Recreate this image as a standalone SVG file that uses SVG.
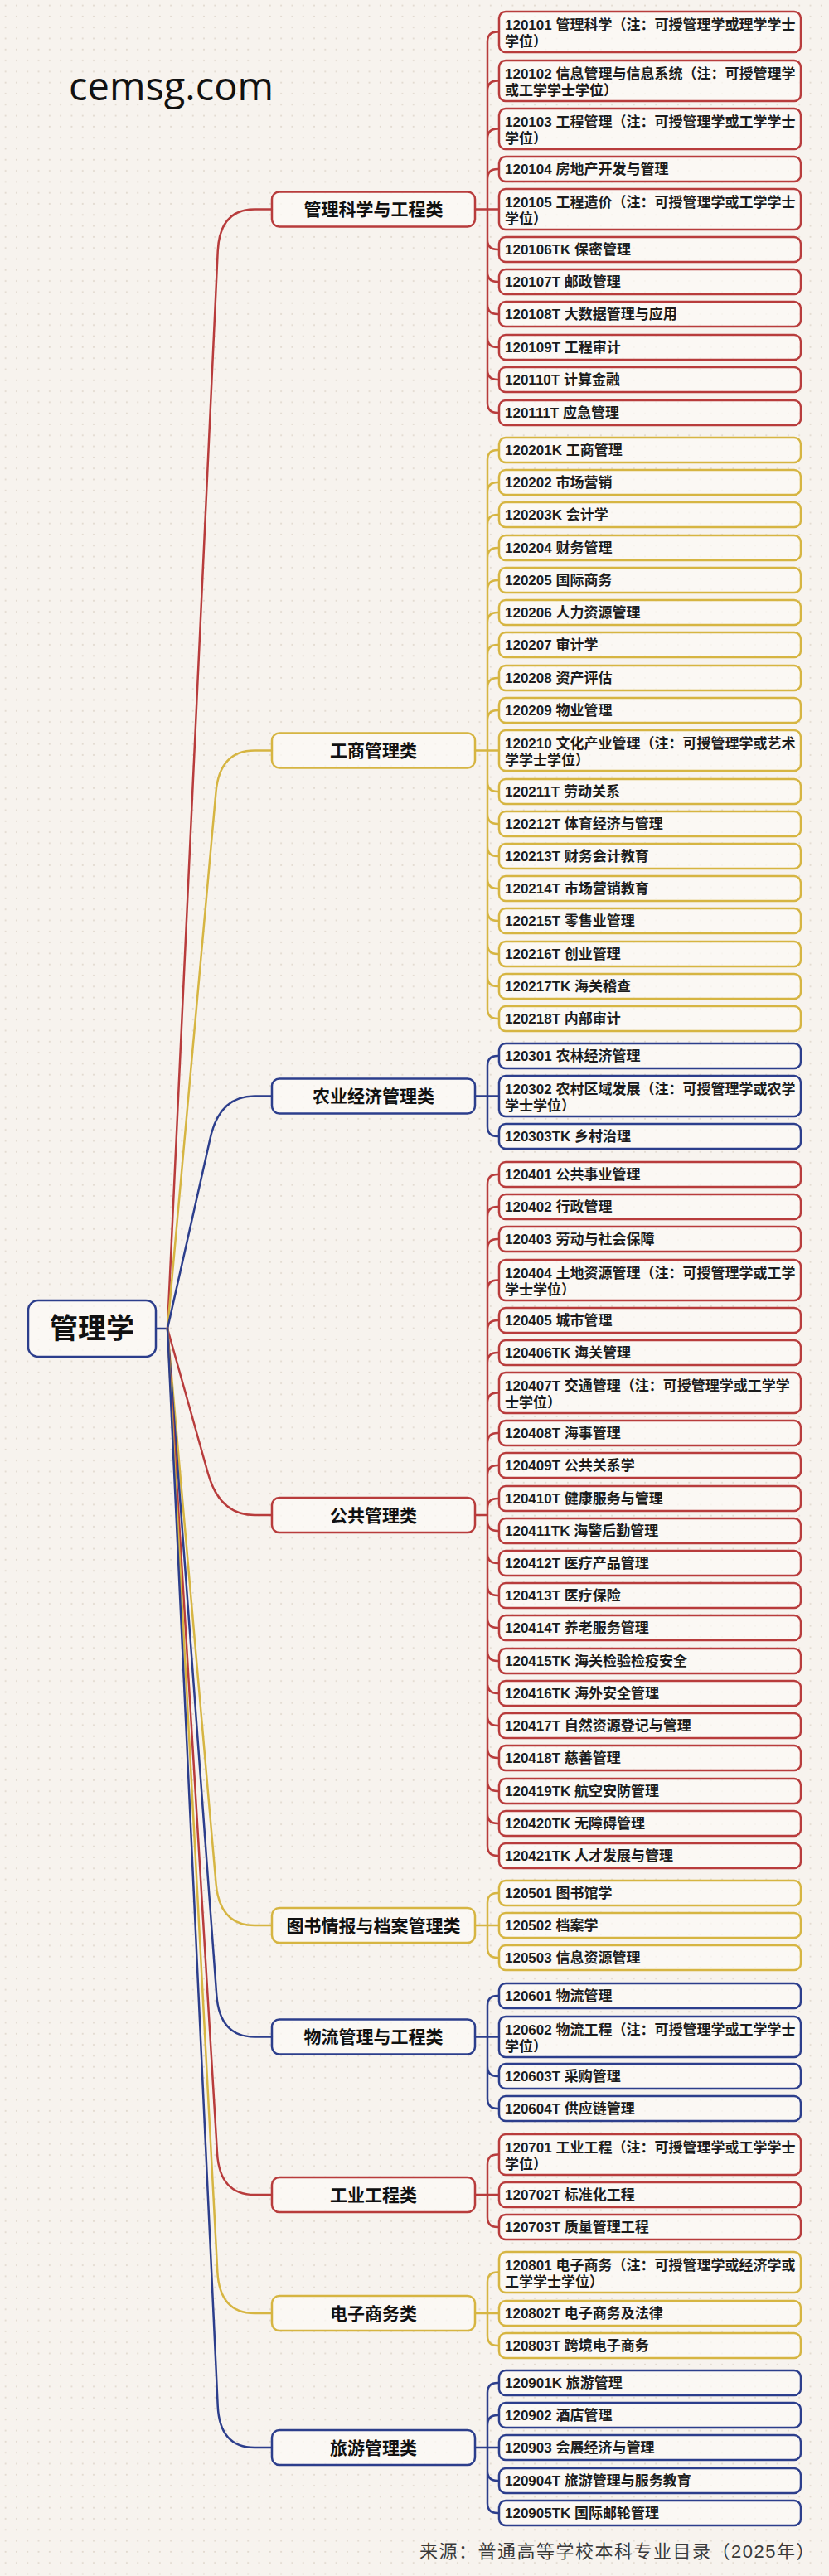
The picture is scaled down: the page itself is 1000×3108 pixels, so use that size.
<svg xmlns="http://www.w3.org/2000/svg" width="1000" height="3108" viewBox="0 0 1000 3108">
<defs>
<pattern id="dots" width="13.3" height="13.3" patternUnits="userSpaceOnUse"><circle cx="6.6" cy="6.6" r="1.1" fill="#e2dad0"/></pattern>
</defs>
<style>
text{font-family:"Liberation Sans","Noto Sans CJK SC",sans-serif}
.lt{font-size:17px;font-weight:700;fill:#1c1c1c}
.ct{font-size:21px;font-weight:700;text-anchor:middle;fill:#111}
.bx{fill:#fcfaf6;fill-opacity:0.75;stroke-width:2.5}
.R{stroke:#b83c3c}.Y{stroke:#d6b542}.B{stroke:#2c3e8c}
.cn{fill:none;stroke-width:2.5;stroke-linecap:round;stroke-linejoin:round}
</style>
<rect width="1000" height="3108" fill="#f7f3ee"/>
<rect width="1000" height="3108" fill="url(#dots)"/>
<text x="83" y="121" style="font-family:'Open Sans','Noto Sans',sans-serif;font-size:47px;fill:#111">cemsg.com</text>

<g id="connectors">
<path class="cn B" d="M188 1603H202"/>
<path class="cn R" d="M202 1603L262.7 303Q265 252.5 307 252.5H328"/>
<path class="cn Y" d="M202 1603L260.5 955.5Q265 905.5 307 905.5H328"/>
<path class="cn B" d="M202 1603L253.8 1372.5Q265 1322.5 307 1322.5H328"/>
<path class="cn R" d="M202 1603L251 1778Q265 1828 307 1828H328"/>
<path class="cn Y" d="M202 1603L260.6 2273Q265 2323 307 2323H328"/>
<path class="cn B" d="M202 1603L261.3 2407.5Q265 2457.5 307 2457.5H328"/>
<path class="cn R" d="M202 1603L262 2598Q265 2648 307 2648H328"/>
<path class="cn Y" d="M202 1603L262.3 2741Q265 2791 307 2791H328"/>
<path class="cn B" d="M202 1603L262.7 2903Q265 2953 307 2953H328"/>

<path class="cn R" d="M573 252.5H602M588 50.5V486M588 50.5Q588 38.5 600 38.5H602M588 109.5Q588 97.5 600 97.5H602M588 167.5Q588 155.5 600 155.5H602M588 216Q588 204 600 204H602M588 289Q588 301 600 301H602M588 328Q588 340 600 340H602M588 367Q588 379 600 379H602M588 407Q588 419 600 419H602M588 446Q588 458 600 458H602M588 486Q588 498 600 498H602"/>
<path class="cn Y" d="M573 905.5H602M588 555V1217M588 555Q588 543 600 543H602M588 594Q588 582 600 582H602M588 633Q588 621 600 621H602M588 673Q588 661 600 661H602M588 712Q588 700 600 700H602M588 751Q588 739 600 739H602M588 790Q588 778 600 778H602M588 830Q588 818 600 818H602M588 869Q588 857 600 857H602M588 943Q588 955 600 955H602M588 982Q588 994 600 994H602M588 1021Q588 1033 600 1033H602M588 1060Q588 1072 600 1072H602M588 1099Q588 1111 600 1111H602M588 1139Q588 1151 600 1151H602M588 1178Q588 1190 600 1190H602M588 1217Q588 1229 600 1229H602"/>
<path class="cn B" d="M573 1322.5H602M588 1286V1359M588 1286Q588 1274 600 1274H602M588 1359Q588 1371 600 1371H602"/>
<path class="cn R" d="M573 1828H588M588 1429V2227M588 1429Q588 1417 600 1417H602M588 1468Q588 1456 600 1456H602M588 1507Q588 1495 600 1495H602M588 1556.5Q588 1544.5 600 1544.5H602M588 1605Q588 1593 600 1593H602M588 1644Q588 1632 600 1632H602M588 1692.5Q588 1680.5 600 1680.5H602M588 1741Q588 1729 600 1729H602M588 1780Q588 1768 600 1768H602M588 1820Q588 1808 600 1808H602M588 1835Q588 1847 600 1847H602M588 1874Q588 1886 600 1886H602M588 1913Q588 1925 600 1925H602M588 1952Q588 1964 600 1964H602M588 1992Q588 2004 600 2004H602M588 2031Q588 2043 600 2043H602M588 2070Q588 2082 600 2082H602M588 2109Q588 2121 600 2121H602M588 2149Q588 2161 600 2161H602M588 2188Q588 2200 600 2200H602M588 2227Q588 2239 600 2239H602"/>
<path class="cn Y" d="M573 2323H602M588 2296V2350M588 2296Q588 2284 600 2284H602M588 2350Q588 2362 600 2362H602"/>
<path class="cn B" d="M573 2457.5H602M588 2420V2532M588 2420Q588 2408 600 2408H602M588 2493Q588 2505 600 2505H602M588 2532Q588 2544 600 2544H602"/>
<path class="cn R" d="M573 2648H602M588 2611.5V2675M588 2611.5Q588 2599.5 600 2599.5H602M588 2675Q588 2687 600 2687H602"/>
<path class="cn Y" d="M573 2791H602M588 2753.5V2818M588 2753.5Q588 2741.5 600 2741.5H602M588 2818Q588 2830 600 2830H602"/>
<path class="cn B" d="M573 2953H602M588 2887V3020M588 2887Q588 2875 600 2875H602M588 2926Q588 2914 600 2914H602M588 2981Q588 2993 600 2993H602M588 3020Q588 3032 600 3032H602"/>
</g>

<g id="root"><rect class="bx B" x="34" y="1569" width="154" height="68" rx="12"/><text x="111" y="1615" style="font-size:34px;font-weight:700;text-anchor:middle;fill:#111">管理学</text></g>

<g id="c01"><rect class="bx R" x="328" y="231.5" width="245" height="42" rx="9"/><text class="ct" x="450.5" y="260">管理科学与工程类</text></g>
<g id="c02"><rect class="bx Y" x="328" y="884.5" width="245" height="42" rx="9"/><text class="ct" x="450.5" y="913">工商管理类</text></g>
<g id="c03"><rect class="bx B" x="328" y="1301.5" width="245" height="42" rx="9"/><text class="ct" x="450.5" y="1330">农业经济管理类</text></g>
<g id="c04"><rect class="bx R" x="328" y="1807" width="245" height="42" rx="9"/><text class="ct" x="450.5" y="1835.5">公共管理类</text></g>
<g id="c05"><rect class="bx Y" x="328" y="2302" width="245" height="42" rx="9"/><text class="ct" x="450.5" y="2330.5">图书情报与档案管理类</text></g>
<g id="c06"><rect class="bx B" x="328" y="2436.5" width="245" height="42" rx="9"/><text class="ct" x="450.5" y="2465">物流管理与工程类</text></g>
<g id="c07"><rect class="bx R" x="328" y="2627" width="245" height="42" rx="9"/><text class="ct" x="450.5" y="2655.5">工业工程类</text></g>
<g id="c08"><rect class="bx Y" x="328" y="2770" width="245" height="42" rx="9"/><text class="ct" x="450.5" y="2798.5">电子商务类</text></g>
<g id="c09"><rect class="bx B" x="328" y="2932" width="245" height="42" rx="9"/><text class="ct" x="450.5" y="2960.5">旅游管理类</text></g>

<g id="n120101"><rect class="bx R" x="602" y="14" width="364" height="49" rx="8"/><text class="lt" x="609" y="36">120101 管理科学（注：可授管理学或理学学士<tspan x="609" y="56">学位）</tspan></text></g>
<g id="n120102"><rect class="bx R" x="602" y="73" width="364" height="49" rx="8"/><text class="lt" x="609" y="95">120102 信息管理与信息系统（注：可授管理学<tspan x="609" y="115">或工学学士学位）</tspan></text></g>
<g id="n120103"><rect class="bx R" x="602" y="131" width="364" height="49" rx="8"/><text class="lt" x="609" y="153">120103 工程管理（注：可授管理学或工学学士<tspan x="609" y="173">学位）</tspan></text></g>
<g id="n120104"><rect class="bx R" x="602" y="189" width="364" height="30" rx="8"/><text class="lt" x="609" y="210">120104 房地产开发与管理</text></g>
<g id="n120105"><rect class="bx R" x="602" y="228" width="364" height="49" rx="8"/><text class="lt" x="609" y="250">120105 工程造价（注：可授管理学或工学学士<tspan x="609" y="270">学位）</tspan></text></g>
<g id="n120106TK"><rect class="bx R" x="602" y="286" width="364" height="30" rx="8"/><text class="lt" x="609" y="307">120106TK 保密管理</text></g>
<g id="n120107T"><rect class="bx R" x="602" y="325" width="364" height="30" rx="8"/><text class="lt" x="609" y="346">120107T 邮政管理</text></g>
<g id="n120108T"><rect class="bx R" x="602" y="364" width="364" height="30" rx="8"/><text class="lt" x="609" y="385">120108T 大数据管理与应用</text></g>
<g id="n120109T"><rect class="bx R" x="602" y="404" width="364" height="30" rx="8"/><text class="lt" x="609" y="425">120109T 工程审计</text></g>
<g id="n120110T"><rect class="bx R" x="602" y="443" width="364" height="30" rx="8"/><text class="lt" x="609" y="464">120110T 计算金融</text></g>
<g id="n120111T"><rect class="bx R" x="602" y="483" width="364" height="30" rx="8"/><text class="lt" x="609" y="504">120111T 应急管理</text></g>

<g id="n120201K"><rect class="bx Y" x="602" y="528" width="364" height="30" rx="8"/><text class="lt" x="609" y="549">120201K 工商管理</text></g>
<g id="n120202"><rect class="bx Y" x="602" y="567" width="364" height="30" rx="8"/><text class="lt" x="609" y="588">120202 市场营销</text></g>
<g id="n120203K"><rect class="bx Y" x="602" y="606" width="364" height="30" rx="8"/><text class="lt" x="609" y="627">120203K 会计学</text></g>
<g id="n120204"><rect class="bx Y" x="602" y="646" width="364" height="30" rx="8"/><text class="lt" x="609" y="667">120204 财务管理</text></g>
<g id="n120205"><rect class="bx Y" x="602" y="685" width="364" height="30" rx="8"/><text class="lt" x="609" y="706">120205 国际商务</text></g>
<g id="n120206"><rect class="bx Y" x="602" y="724" width="364" height="30" rx="8"/><text class="lt" x="609" y="745">120206 人力资源管理</text></g>
<g id="n120207"><rect class="bx Y" x="602" y="763" width="364" height="30" rx="8"/><text class="lt" x="609" y="784">120207 审计学</text></g>
<g id="n120208"><rect class="bx Y" x="602" y="803" width="364" height="30" rx="8"/><text class="lt" x="609" y="824">120208 资产评估</text></g>
<g id="n120209"><rect class="bx Y" x="602" y="842" width="364" height="30" rx="8"/><text class="lt" x="609" y="863">120209 物业管理</text></g>
<g id="n120210"><rect class="bx Y" x="602" y="881" width="364" height="49" rx="8"/><text class="lt" x="609" y="903">120210 文化产业管理（注：可授管理学或艺术<tspan x="609" y="923">学学士学位）</tspan></text></g>
<g id="n120211T"><rect class="bx Y" x="602" y="940" width="364" height="30" rx="8"/><text class="lt" x="609" y="961">120211T 劳动关系</text></g>
<g id="n120212T"><rect class="bx Y" x="602" y="979" width="364" height="30" rx="8"/><text class="lt" x="609" y="1000">120212T 体育经济与管理</text></g>
<g id="n120213T"><rect class="bx Y" x="602" y="1018" width="364" height="30" rx="8"/><text class="lt" x="609" y="1039">120213T 财务会计教育</text></g>
<g id="n120214T"><rect class="bx Y" x="602" y="1057" width="364" height="30" rx="8"/><text class="lt" x="609" y="1078">120214T 市场营销教育</text></g>
<g id="n120215T"><rect class="bx Y" x="602" y="1096" width="364" height="30" rx="8"/><text class="lt" x="609" y="1117">120215T 零售业管理</text></g>
<g id="n120216T"><rect class="bx Y" x="602" y="1136" width="364" height="30" rx="8"/><text class="lt" x="609" y="1157">120216T 创业管理</text></g>
<g id="n120217TK"><rect class="bx Y" x="602" y="1175" width="364" height="30" rx="8"/><text class="lt" x="609" y="1196">120217TK 海关稽查</text></g>
<g id="n120218T"><rect class="bx Y" x="602" y="1214" width="364" height="30" rx="8"/><text class="lt" x="609" y="1235">120218T 内部审计</text></g>

<g id="n120301"><rect class="bx B" x="602" y="1259" width="364" height="30" rx="8"/><text class="lt" x="609" y="1280">120301 农林经济管理</text></g>
<g id="n120302"><rect class="bx B" x="602" y="1298" width="364" height="49" rx="8"/><text class="lt" x="609" y="1320">120302 农村区域发展（注：可授管理学或农学<tspan x="609" y="1340">学士学位）</tspan></text></g>
<g id="n120303TK"><rect class="bx B" x="602" y="1356" width="364" height="30" rx="8"/><text class="lt" x="609" y="1377">120303TK 乡村治理</text></g>

<g id="n120401"><rect class="bx R" x="602" y="1402" width="364" height="30" rx="8"/><text class="lt" x="609" y="1423">120401 公共事业管理</text></g>
<g id="n120402"><rect class="bx R" x="602" y="1441" width="364" height="30" rx="8"/><text class="lt" x="609" y="1462">120402 行政管理</text></g>
<g id="n120403"><rect class="bx R" x="602" y="1480" width="364" height="30" rx="8"/><text class="lt" x="609" y="1501">120403 劳动与社会保障</text></g>
<g id="n120404"><rect class="bx R" x="602" y="1520" width="364" height="49" rx="8"/><text class="lt" x="609" y="1542">120404 土地资源管理（注：可授管理学或工学<tspan x="609" y="1562">学士学位）</tspan></text></g>
<g id="n120405"><rect class="bx R" x="602" y="1578" width="364" height="30" rx="8"/><text class="lt" x="609" y="1599">120405 城市管理</text></g>
<g id="n120406TK"><rect class="bx R" x="602" y="1617" width="364" height="30" rx="8"/><text class="lt" x="609" y="1638">120406TK 海关管理</text></g>
<g id="n120407T"><rect class="bx R" x="602" y="1656" width="364" height="49" rx="8"/><text class="lt" x="609" y="1678">120407T 交通管理（注：可授管理学或工学学<tspan x="609" y="1698">士学位）</tspan></text></g>
<g id="n120408T"><rect class="bx R" x="602" y="1714" width="364" height="30" rx="8"/><text class="lt" x="609" y="1735">120408T 海事管理</text></g>
<g id="n120409T"><rect class="bx R" x="602" y="1753" width="364" height="30" rx="8"/><text class="lt" x="609" y="1774">120409T 公共关系学</text></g>
<g id="n120410T"><rect class="bx R" x="602" y="1793" width="364" height="30" rx="8"/><text class="lt" x="609" y="1814">120410T 健康服务与管理</text></g>
<g id="n120411TK"><rect class="bx R" x="602" y="1832" width="364" height="30" rx="8"/><text class="lt" x="609" y="1853">120411TK 海警后勤管理</text></g>
<g id="n120412T"><rect class="bx R" x="602" y="1871" width="364" height="30" rx="8"/><text class="lt" x="609" y="1892">120412T 医疗产品管理</text></g>
<g id="n120413T"><rect class="bx R" x="602" y="1910" width="364" height="30" rx="8"/><text class="lt" x="609" y="1931">120413T 医疗保险</text></g>
<g id="n120414T"><rect class="bx R" x="602" y="1949" width="364" height="30" rx="8"/><text class="lt" x="609" y="1970">120414T 养老服务管理</text></g>
<g id="n120415TK"><rect class="bx R" x="602" y="1989" width="364" height="30" rx="8"/><text class="lt" x="609" y="2010">120415TK 海关检验检疫安全</text></g>
<g id="n120416TK"><rect class="bx R" x="602" y="2028" width="364" height="30" rx="8"/><text class="lt" x="609" y="2049">120416TK 海外安全管理</text></g>
<g id="n120417T"><rect class="bx R" x="602" y="2067" width="364" height="30" rx="8"/><text class="lt" x="609" y="2088">120417T 自然资源登记与管理</text></g>
<g id="n120418T"><rect class="bx R" x="602" y="2106" width="364" height="30" rx="8"/><text class="lt" x="609" y="2127">120418T 慈善管理</text></g>
<g id="n120419TK"><rect class="bx R" x="602" y="2146" width="364" height="30" rx="8"/><text class="lt" x="609" y="2167">120419TK 航空安防管理</text></g>
<g id="n120420TK"><rect class="bx R" x="602" y="2185" width="364" height="30" rx="8"/><text class="lt" x="609" y="2206">120420TK 无障碍管理</text></g>
<g id="n120421TK"><rect class="bx R" x="602" y="2224" width="364" height="30" rx="8"/><text class="lt" x="609" y="2245">120421TK 人才发展与管理</text></g>

<g id="n120501"><rect class="bx Y" x="602" y="2269" width="364" height="30" rx="8"/><text class="lt" x="609" y="2290">120501 图书馆学</text></g>
<g id="n120502"><rect class="bx Y" x="602" y="2308" width="364" height="30" rx="8"/><text class="lt" x="609" y="2329">120502 档案学</text></g>
<g id="n120503"><rect class="bx Y" x="602" y="2347" width="364" height="30" rx="8"/><text class="lt" x="609" y="2368">120503 信息资源管理</text></g>

<g id="n120601"><rect class="bx B" x="602" y="2393" width="364" height="30" rx="8"/><text class="lt" x="609" y="2414">120601 物流管理</text></g>
<g id="n120602"><rect class="bx B" x="602" y="2433" width="364" height="49" rx="8"/><text class="lt" x="609" y="2455">120602 物流工程（注：可授管理学或工学学士<tspan x="609" y="2475">学位）</tspan></text></g>
<g id="n120603T"><rect class="bx B" x="602" y="2490" width="364" height="30" rx="8"/><text class="lt" x="609" y="2511">120603T 采购管理</text></g>
<g id="n120604T"><rect class="bx B" x="602" y="2529" width="364" height="30" rx="8"/><text class="lt" x="609" y="2550">120604T 供应链管理</text></g>

<g id="n120701"><rect class="bx R" x="602" y="2575" width="364" height="49" rx="8"/><text class="lt" x="609" y="2597">120701 工业工程（注：可授管理学或工学学士<tspan x="609" y="2617">学位）</tspan></text></g>
<g id="n120702T"><rect class="bx R" x="602" y="2633" width="364" height="30" rx="8"/><text class="lt" x="609" y="2654">120702T 标准化工程</text></g>
<g id="n120703T"><rect class="bx R" x="602" y="2672" width="364" height="30" rx="8"/><text class="lt" x="609" y="2693">120703T 质量管理工程</text></g>

<g id="n120801"><rect class="bx Y" x="602" y="2717" width="364" height="49" rx="8"/><text class="lt" x="609" y="2739">120801 电子商务（注：可授管理学或经济学或<tspan x="609" y="2759">工学学士学位）</tspan></text></g>
<g id="n120802T"><rect class="bx Y" x="602" y="2776" width="364" height="30" rx="8"/><text class="lt" x="609" y="2797">120802T 电子商务及法律</text></g>
<g id="n120803T"><rect class="bx Y" x="602" y="2815" width="364" height="30" rx="8"/><text class="lt" x="609" y="2836">120803T 跨境电子商务</text></g>

<g id="n120901K"><rect class="bx B" x="602" y="2860" width="364" height="30" rx="8"/><text class="lt" x="609" y="2881">120901K 旅游管理</text></g>
<g id="n120902"><rect class="bx B" x="602" y="2899" width="364" height="30" rx="8"/><text class="lt" x="609" y="2920">120902 酒店管理</text></g>
<g id="n120903"><rect class="bx B" x="602" y="2938" width="364" height="30" rx="8"/><text class="lt" x="609" y="2959">120903 会展经济与管理</text></g>
<g id="n120904T"><rect class="bx B" x="602" y="2978" width="364" height="30" rx="8"/><text class="lt" x="609" y="2999">120904T 旅游管理与服务教育</text></g>
<g id="n120905TK"><rect class="bx B" x="602" y="3017" width="364" height="30" rx="8"/><text class="lt" x="609" y="3038">120905TK 国际邮轮管理</text></g>

<text x="506" y="3086" style="font-size:22px;letter-spacing:1.5px;fill:#3a3a3a">来源：普通高等学校本科专业目录（2025年）</text>
</svg>
